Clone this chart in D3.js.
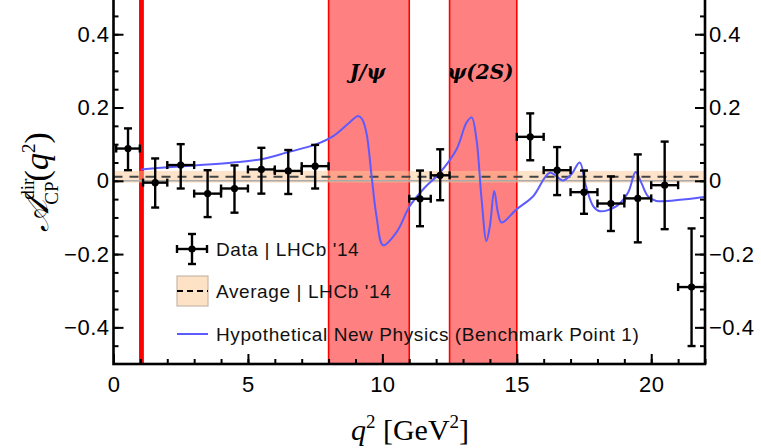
<!DOCTYPE html>
<html>
<head>
<meta charset="utf-8">
<script src="https://cdn.jsdelivr.net/npm/d3@7/dist/d3.min.js"></script>
<style>
  body { margin: 0; background: #fff; }
  svg { display: block; }
</style>
</head>
<body>
<figure id="acp" style="margin:0"></figure>
<script>
// LHCb '14 measurement, one entry per q^2 bin
const binLo = [0.1, 1.1, 2, 3, 4, 5, 6, 7, 11, 11.8, 15, 16, 17, 18, 19, 20, 21];
const binHi = [0.98, 2, 3, 4, 5, 6, 7, 8, 11.8, 12.5, 16, 17, 18, 19, 20, 21, 22];
const acp   = [0.088, -0.005, 0.043, -0.035, -0.021, 0.031, 0.027, 0.040, -0.049, 0.015, 0.12, 0.029, -0.031, -0.062, -0.048, -0.012, -0.29];
const errUp = [0.055, 0.066, 0.057, 0.064, 0.063, 0.059, 0.057, 0.058, 0.077, 0.071, 0.064, 0.063, 0.059, 0.074, 0.12, 0.119, 0.16];
const errDn = [0.059, 0.068, 0.064, 0.064, 0.066, 0.066, 0.063, 0.061, 0.075, 0.068, 0.064, 0.068, 0.059, 0.075, 0.12, 0.12, 0.161];

// average and its uncertainty
const avgValue = 0.011;
const avgErr = 0.016;

// benchmark point 1 curve
const npQ2  = [1.02, 2.04, 3.22, 4.45, 5.51, 6.44, 7.55, 8.17, 8.79, 9.10, 9.25, 9.41, 9.60, 9.78, 10.03, 10.53, 11.02, 11.52, 12.14, 12.76, 13.13, 13.32, 13.50, 13.69, 13.87, 14.00, 14.16, 14.30, 14.43, 14.99, 15.61, 16.23, 16.72, 17.03, 17.34, 17.57, 17.84, 18.09, 18.71, 19.14, 19.42, 19.63, 19.88, 20.19, 21.18, 22.0];
const npAcp = [0.031, 0.037, 0.043, 0.050, 0.059, 0.077, 0.100, 0.122, 0.160, 0.177, 0.168, 0.130, 0.013, -0.096, -0.176, -0.140, -0.069, -0.023, 0.022, 0.086, 0.159, 0.173, 0.113, -0.050, -0.164, -0.123, -0.028, -0.087, -0.114, -0.078, -0.042, 0.022, 0.001, 0.018, 0.050, -0.014, -0.069, -0.083, -0.069, -0.032, 0.024, -0.005, -0.042, -0.055, -0.051, -0.044];

// vetoed resonance regions
const vetoLo = [0.98, 8, 12.5];
const vetoHi = [1.1, 11, 15];
const resLabels = ["J/ψ", "ψ(2S)"];
const resLabelQ2 = [9.45, 13.65];

const xTicks = [0, 5, 10, 15, 20];
const yTicks = [-0.4, -0.2, 0, 0.2, 0.4];
const legendLabels = ["Data | LHCb '14", "Average | LHCb '14", "Hypothetical New Physics (Benchmark Point 1)"];

const W = 761, H = 448;
const plotLeft = 113.5, plotRight = 705, plotTop = -2.4, plotBottom = 364;

const svg = d3.select("figure#acp").append("svg")
  .attr("width", W).attr("height", H);

const x = d3.scaleLinear().domain([0, 22]).range([plotLeft, plotRight]);
const y = d3.scaleLinear().domain([-0.5, 0.5]).range([plotBottom, plotTop]);

const plot = svg.append("g");

// resonance bands
plot.selectAll("rect.veto")
  .data(vetoLo.map((d, i) => ({ lo: d, hi: vetoHi[i] })))
  .enter().append("rect")
  .attr("x", d => x(d.lo))
  .attr("y", y(0.5))
  .attr("width", d => x(d.hi) - x(d.lo))
  .attr("height", y(-0.5) - y(0.5))
  .attr("fill", (d, i) => i == 0 ? "#ff0000" : "#ff8080")
  .attr("stroke", "#ff0000")
  .attr("stroke-width", 1.6);

// average band
plot.append("rect")
  .attr("x", x(0)).attr("width", x(22) - x(0))
  .attr("y", y(avgValue + avgErr))
  .attr("height", y(avgValue - avgErr) - y(avgValue + avgErr))
  .attr("fill", "rgb(251,200,148)").attr("fill-opacity", 0.5);
plot.append("line")
  .attr("x1", x(0)).attr("x2", x(22))
  .attr("y1", y(0)).attr("y2", y(0))
  .attr("stroke", "#aaa").attr("stroke-width", 1.5);
plot.append("line")
  .attr("x1", x(0)).attr("x2", x(22))
  .attr("y1", y(avgValue)).attr("y2", y(avgValue))
  .attr("stroke", "#444").attr("stroke-width", 1.8)
  .attr("stroke-dasharray", "9,7");

// resonance labels
plot.selectAll("text.res")
  .data(resLabels)
  .enter().append("text")
  .attr("x", (d, i) => x(resLabelQ2[i]))
  .attr("y", 79)
  .attr("text-anchor", "middle")
  .attr("font-family", "'DejaVu Serif', serif")
  .attr("font-style", "italic").attr("font-weight", "bold")
  .attr("font-size", 20)
  .text(d => d);

// new physics curve
const line = d3.line()
  .x(d => x(d[0])).y(d => y(d[1]))
  .curve(d3.curveCatmullRom.alpha(0.5));
plot.append("path")
  .datum(npQ2.map((q, i) => [q, npAcp[i]]))
  .attr("d", line)
  .attr("fill", "none")
  .attr("stroke", "#5b5bff")
  .attr("stroke-width", 2);

// data points with error bars
const pts = binLo.map((lo, i) => ({ lo: lo, hi: binHi[i], v: acp[i], up: errUp[i], dn: errDn[i] }));
const pg = plot.selectAll("g.pt").data(pts).enter().append("g")
  .attr("stroke", "#000").attr("stroke-width", 2.4);
const cap = 4;
pg.append("line")
  .attr("x1", d => x(d.lo)).attr("x2", d => x(d.hi))
  .attr("y1", d => y(d.v)).attr("y2", d => y(d.v));
pg.append("line")
  .attr("x1", d => x((d.lo + d.hi) / 2)).attr("x2", d => x((d.lo + d.hi) / 2))
  .attr("y1", d => y(d.v + d.up)).attr("y2", d => y(d.v - d.dn));
// caps
pg.append("line")
  .attr("x1", d => x((d.lo + d.hi) / 2) - cap).attr("x2", d => x((d.lo + d.hi) / 2) + cap)
  .attr("y1", d => y(d.v + d.up)).attr("y2", d => y(d.v + d.up));
pg.append("line")
  .attr("x1", d => x((d.lo + d.hi) / 2) - cap).attr("x2", d => x((d.lo + d.hi) / 2) + cap)
  .attr("y1", d => y(d.v - d.dn)).attr("y2", d => y(d.v - d.dn));
pg.append("line")
  .attr("x1", d => x(d.lo)).attr("x2", d => x(d.lo))
  .attr("y1", d => y(d.v) - cap).attr("y2", d => y(d.v) + cap);
pg.append("line")
  .attr("x1", d => x(d.hi)).attr("x2", d => x(d.hi))
  .attr("y1", d => y(d.v) - cap).attr("y2", d => y(d.v) + cap);
pg.append("circle")
  .attr("cx", d => x((d.lo + d.hi) / 2)).attr("cy", d => y(d.v))
  .attr("r", 3.6).attr("fill", "#000").attr("stroke", "none");

// legend
const lg = svg.append("g").attr("font-family", "'Liberation Sans', Arial, sans-serif")
  .attr("font-size", 19).attr("letter-spacing", 0.6);
const lx = 192, ly = [249, 291, 334];
const lgData = lg.append("g").attr("stroke", "#000").attr("stroke-width", 2.4);
lgData.append("line").attr("x1", lx - 15).attr("x2", lx + 15).attr("y1", ly[0]).attr("y2", ly[0]);
lgData.append("line").attr("x1", lx).attr("x2", lx).attr("y1", ly[0] - 15).attr("y2", ly[0] + 15);
lgData.append("line").attr("x1", lx - cap).attr("x2", lx + cap).attr("y1", ly[0] - 15).attr("y2", ly[0] - 15);
lgData.append("line").attr("x1", lx - cap).attr("x2", lx + cap).attr("y1", ly[0] + 15).attr("y2", ly[0] + 15);
lgData.append("line").attr("x1", lx - 15).attr("x2", lx - 15).attr("y1", ly[0] - cap).attr("y2", ly[0] + cap);
lgData.append("line").attr("x1", lx + 15).attr("x2", lx + 15).attr("y1", ly[0] - cap).attr("y2", ly[0] + cap);
lgData.append("circle").attr("cx", lx).attr("cy", ly[0]).attr("r", 3.6).attr("fill", "#000").attr("stroke", "none");
lg.append("rect").attr("x", lx - 15).attr("y", ly[1] - 15).attr("width", 31).attr("height", 30)
  .attr("fill", "#fde2c6").attr("stroke", "#c8b8a8").attr("stroke-width", 1.2);
lg.append("line").attr("x1", lx - 15).attr("x2", lx + 16).attr("y1", ly[1]).attr("y2", ly[1])
  .attr("stroke", "#000").attr("stroke-width", 1.8).attr("stroke-dasharray", "6,4");
lg.append("line").attr("x1", lx - 15).attr("x2", lx + 16).attr("y1", ly[2]).attr("y2", ly[2])
  .attr("stroke", "#5b5bff").attr("stroke-width", 2);
lg.selectAll("text.lab").data(legendLabels).enter().append("text")
  .attr("x", 216).attr("y", (d, i) => ly[i] + 7)
  .attr("fill", "#111")
  .text(d => d);

// axes: ticks point inward
const axes = svg.append("g");
const minorX = d3.range(0, 23, 1);
const minorY = d3.range(-0.45, 0.5, 0.05).map(v => Math.round(v * 100) / 100);
axes.append("g").attr("transform", `translate(0,${plotBottom})`)
  .call(d3.axisTop(x).tickValues(minorX).tickSize(5).tickFormat(""))
  .call(g => g.select(".domain").remove());
axes.append("g").attr("transform", `translate(0,${plotBottom})`)
  .call(d3.axisTop(x).tickValues(xTicks).tickSize(10).tickFormat(""))
  .call(g => g.select(".domain").remove());
axes.append("g").attr("transform", `translate(0,${plotBottom})`)
  .call(d3.axisBottom(x).tickValues(xTicks).tickSize(0).tickPadding(12).tickFormat(d3.format("d")))
  .call(g => g.select(".domain").remove());
[[plotLeft, d3.axisRight, d3.axisLeft], [plotRight, d3.axisLeft, d3.axisRight]].forEach(([px, inward, outward]) => {
  axes.append("g").attr("transform", `translate(${px},0)`)
    .call(inward(y).tickValues(minorY).tickSize(5).tickFormat(""))
    .call(g => g.select(".domain").remove());
  axes.append("g").attr("transform", `translate(${px},0)`)
    .call(inward(y).tickValues(yTicks).tickSize(10).tickFormat(""))
    .call(g => g.select(".domain").remove());
  axes.append("g").attr("transform", `translate(${px},0)`)
    .call(outward(y).tickValues(yTicks).tickSize(0).tickPadding(4).tickFormat(d => d == 0 ? "0" : d3.format(".1f")(d).replace("-", "\u2212")))
    .call(g => g.select(".domain").remove());
});
axes.selectAll(".tick line").attr("stroke", "#000").attr("stroke-width", 2);
axes.selectAll(".tick text").attr("font-family", "'Liberation Sans', Arial, sans-serif")
  .attr("font-size", 22).attr("letter-spacing", 0.5).attr("fill", "#000");
axes.append("rect")
  .attr("x", plotLeft).attr("y", plotTop)
  .attr("width", plotRight - plotLeft).attr("height", plotBottom - plotTop)
  .attr("fill", "none").attr("stroke", "#000").attr("stroke-width", 2.6);

// axis titles
const xt = svg.append("text")
  .attr("x", 410).attr("y", 440)
  .attr("text-anchor", "middle")
  .attr("font-family", "'Liberation Serif', 'DejaVu Serif', serif")
  .attr("font-size", 30);
xt.append("tspan").attr("font-style", "italic").text("q");
xt.append("tspan").attr("font-size", 19).attr("dy", -12).text("2");
xt.append("tspan").attr("dy", 12).text(" [GeV");
xt.append("tspan").attr("font-size", 19).attr("dy", -12).text("2");
xt.append("tspan").attr("dy", 12).text("]");

const yt = svg.append("text")
  .attr("transform", "translate(48,182) rotate(-90)")
  .attr("text-anchor", "middle")
  .attr("font-family", "'Liberation Serif', 'DejaVu Serif', serif")
  .attr("font-size", 34);
yt.append("tspan").attr("font-style", "italic").text("𝒜");
yt.append("tspan").attr("font-size", 19).attr("dy", -14).text("dir");
yt.append("tspan").attr("font-size", 19).attr("dx", -26).attr("dy", 24).text("CP");
yt.append("tspan").attr("dy", -10).text("(");
yt.append("tspan").attr("font-style", "italic").text("q");
yt.append("tspan").attr("font-size", 19).attr("dy", -13).text("2");
yt.append("tspan").attr("dy", 13).text(")");
</script>
</body>
</html>
